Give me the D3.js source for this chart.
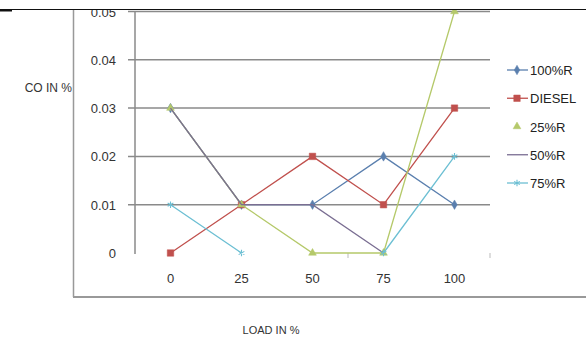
<!DOCTYPE html>
<html>
<head>
<meta charset="utf-8">
<script src="https://cdn.jsdelivr.net/npm/d3@7"></script>
<style>
  body { margin: 0; background: #fff; }
  svg { display: block; font-family: 'Liberation Sans', Arial, sans-serif; }
</style>
</head>
<body>
<svg width="586" height="342"></svg>
<script>
// loads along the x axis
let loads = ['0', '25', '50', '75', '100']
let yTicks = [0, 0.01, 0.02, 0.03, 0.04, 0.05]

// CO readings per fuel (null = no point)
let r100 = [0.03, 0.01, 0.01, 0.02, 0.01]
let diesel = [0, 0.01, 0.02, 0.01, 0.03]
let r25 = [0.03, 0.01, 0, 0, 0.05]
let r50 = [0.03, 0.01, 0.01, 0, null]
let r75 = [0.01, 0, null, 0, 0.02]

let seriesNames = ['100%R', 'DIESEL', '25%R', '50%R', '75%R']
let seriesValues = [r100, diesel, r25, r50, r75]
let colors = ['#5a7fae', '#c0504d', '#b5c96a', '#7a6e92', '#6cbfd3']
let markers = ['diamond', 'square', 'triangle', 'none', 'star']

let width = 586
let height = 342
let plot = { left: 135, right: 490, top: 11.5, bottom: 253 }

let svg = d3.select('svg')

let xScale = d3.scaleBand()
  .domain(loads)
  .range([plot.left, plot.right])
let xc = d => xScale(d) + xScale.bandwidth() / 2

let yScale = d3.scaleLinear()
  .domain([0, 0.05])
  .range([plot.bottom, plot.top])

// frame of the chart
svg.append('line')
  .attr('x1', 73.5).attr('x2', 73.5).attr('y1', 10).attr('y2', 297)
  .attr('stroke', '#999').attr('stroke-width', 1.5)
svg.append('line')
  .attr('x1', 73).attr('x2', width).attr('y1', 297).attr('y2', 297)
  .attr('stroke', '#999').attr('stroke-width', 2)

// gridlines (not at 0)
svg.append('g')
  .selectAll('line')
  .data(yTicks.filter(t => t > 0))
  .enter()
  .append('line')
  .attr('x1', plot.left - 7).attr('x2', plot.right)
  .attr('y1', d => yScale(d)).attr('y2', d => yScale(d))
  .attr('stroke', '#8a8a8a').attr('stroke-width', 1.5)

// y axis line
svg.append('line')
  .attr('x1', plot.left).attr('x2', plot.left)
  .attr('y1', plot.top).attr('y2', plot.bottom + 1)
  .attr('stroke', '#8a8a8a').attr('stroke-width', 1.5)

// y tick labels
svg.append('g')
  .selectAll('text')
  .data(yTicks)
  .enter()
  .append('text')
  .attr('x', 116)
  .attr('y', d => yScale(d) + 5)
  .attr('text-anchor', 'end')
  .attr('font-size', 13)
  .attr('fill', '#333')
  .text(d => d === 0 ? '0' : d3.format('.2f')(d))

// faint ticks at some category boundaries
let boundaryTicks = ['50', '100']
svg.append('g')
  .selectAll('line')
  .data(boundaryTicks)
  .enter()
  .append('line')
  .attr('x1', d => xScale(d) + xScale.bandwidth())
  .attr('x2', d => xScale(d) + xScale.bandwidth())
  .attr('y1', plot.bottom).attr('y2', plot.bottom + 5)
  .attr('stroke', '#bbb')

// x tick labels
svg.append('g')
  .selectAll('text')
  .data(loads)
  .enter()
  .append('text')
  .attr('x', d => xc(d))
  .attr('y', 283)
  .attr('text-anchor', 'middle')
  .attr('font-size', 13)
  .attr('fill', '#333')
  .text(d => d)

// axis titles
svg.append('text')
  .attr('x', 72).attr('y', 92)
  .attr('text-anchor', 'end')
  .attr('font-size', 12)
  .attr('fill', '#333')
  .text('CO IN %')
svg.append('text')
  .attr('x', 271).attr('y', 334)
  .attr('text-anchor', 'middle')
  .attr('font-size', 11)
  .attr('fill', '#333')
  .text('LOAD IN %')

let symbolType = {
  diamond: d3.symbolDiamond,
  square: d3.symbolSquare,
  triangle: d3.symbolTriangle,
  star: d3.symbolAsterisk
}

let line = d3.line()
  .defined(d => d.v !== null)
  .x(d => xc(d.load))
  .y(d => yScale(d.v))

function drawMarker(g, kind, color, x, y) {
  if (kind === 'none') return
  let size = kind === 'square' ? 42 : kind === 'star' ? 30 : 26
  g.append('path')
    .attr('d', d3.symbol().type(symbolType[kind]).size(size)())
    .attr('transform', `translate(${x},${y})`)
    .attr('fill', kind === 'star' ? 'none' : color)
    .attr('stroke', color)
    .attr('stroke-width', kind === 'star' ? 1.1 : 0.5)
}

seriesValues.forEach((vals, i) => {
  let pts = vals.map((v, j) => ({ load: loads[j], v: v }))
  let g = svg.append('g')
  g.append('path')
    .attr('d', line(pts))
    .attr('fill', 'none')
    .attr('stroke', colors[i])
    .attr('stroke-width', 1.3)
  pts.filter(p => p.v !== null).forEach(p => {
    drawMarker(g, markers[i], colors[i], xc(p.load), yScale(p.v))
  })
})

// legend
let legendY = d3.scalePoint()
  .domain(seriesNames)
  .range([70, 183])

seriesNames.forEach((name, i) => {
  let y = legendY(name)
  let g = svg.append('g')
  g.append('line')
    .attr('x1', 507).attr('x2', 528)
    .attr('y1', y).attr('y2', y)
    .attr('stroke', colors[i])
    .attr('stroke-width', 1.3)
    .attr('stroke-opacity', name === '25%R' ? 0 : 1)
  drawMarker(g, markers[i], colors[i], 517, y)
  g.append('text')
    .attr('x', 530)
    .attr('y', y + 5)
    .attr('font-size', 13)
    .attr('fill', '#222')
    .text(name)
})

// page edge above the chart hides the top of the first label
svg.append('rect')
  .attr('x', 0).attr('y', 0).attr('width', width).attr('height', 9)
  .attr('fill', '#fff')
svg.append('line')
  .attr('x1', 0).attr('x2', width).attr('y1', 9.5).attr('y2', 9.5)
  .attr('stroke', '#111').attr('stroke-width', 1)
svg.append('line')
  .attr('x1', 0).attr('x2', 12).attr('y1', 10.5).attr('y2', 10.5)
  .attr('stroke', '#111').attr('stroke-width', 2)
</script>
</body>
</html>
